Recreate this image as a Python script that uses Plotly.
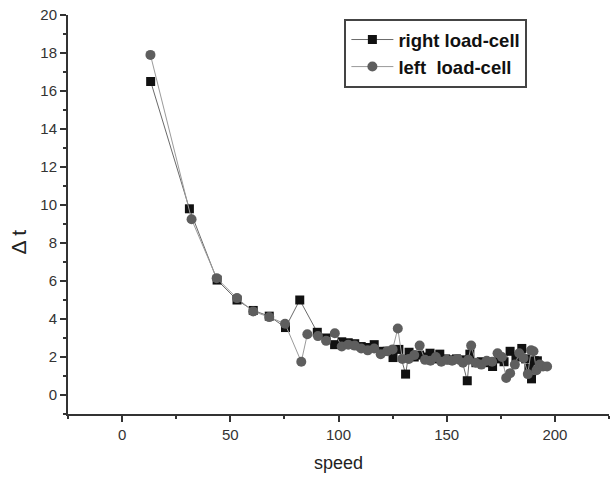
import plotly.graph_objects as go

right_x = [13.2, 31.1, 43.9, 53.1, 60.6, 68.0, 75.5, 82.1, 90.2, 94.3, 98.2, 101.5, 104.5, 107.5, 110.5,
           113.5, 116.5, 119.5, 122.5, 125.2, 127.9, 131.0, 132.6, 135.0, 137.5, 140.0, 142.3, 144.8,
           146.8, 149.5, 152.0, 154.5, 157.0, 159.5, 160.7, 163.5, 166.0, 168.5, 171.2, 174.0, 176.5,
           179.3, 182.0, 184.7, 186.5, 188.0, 189.2, 190.5, 191.9, 193.5]
right_y = [16.5, 9.8, 6.05, 5.0, 4.45, 4.15, 3.55, 5.0, 3.3, 3.0, 2.65, 2.8, 2.75, 2.7, 2.55,
           2.5, 2.65, 2.3, 2.3, 1.97, 2.4, 1.1, 2.25, 2.0, 2.1, 2.0, 2.2, 1.9,
           2.15, 1.9, 1.85, 1.9, 1.85, 0.75, 2.15, 1.7, 1.75, 1.7, 1.5, 1.9, 1.75,
           2.3, 2.0, 2.45, 1.9, 1.4, 0.85, 1.8, 1.8, 1.5]

left_x = [13.1, 32.1, 43.7, 53.1, 60.6, 68.0, 75.3, 82.8, 85.6, 90.5, 94.3, 98.3, 101.5, 104.5,
          107.5, 110.5, 113.5, 116.5, 119.5, 122.5, 125.0, 127.4, 129.5, 132.5, 135.0, 137.5, 140.0,
          142.5, 145.0, 147.5, 150.0, 152.5, 155.0, 157.5, 160.0, 161.3, 163.5, 166.0, 168.5, 171.0,
          173.5, 175.5, 177.5, 179.3, 181.5, 183.5, 185.5, 187.5, 189.0, 190.1, 191.5, 193.0, 194.5, 196.4]
left_y = [17.9, 9.25, 6.15, 5.1, 4.4, 4.1, 3.75, 1.75, 3.2, 3.1, 2.85, 3.25, 2.55, 2.65,
          2.6, 2.45, 2.35, 2.45, 2.15, 2.3, 2.4, 3.5, 1.9, 1.9, 2.1, 2.6, 1.85,
          1.8, 2.0, 1.75, 1.85, 1.8, 1.9, 1.7, 1.85, 2.6, 1.7, 1.6, 1.8, 1.75,
          2.2, 2.0, 0.9, 1.15, 1.6, 2.2, 1.95, 1.1, 2.35, 2.3, 1.3, 1.6, 1.5, 1.5]

series_names = ["right load-cell", "left  load-cell"]
x_ticks = [0, 50, 100, 150, 200]
y_ticks = [0, 2, 4, 6, 8, 10, 12, 14, 16, 18, 20]
x_title = "speed"
y_title = "Δ t"

fig = go.Figure()
fig.add_trace(go.Scatter(
    x=right_x, y=right_y, mode="lines+markers", name=series_names[0],
    line=dict(color="#6a6a6a", width=1),
    marker=dict(symbol="square", size=9, color="#111111"),
))
fig.add_trace(go.Scatter(
    x=left_x, y=left_y, mode="lines+markers", name=series_names[1],
    line=dict(color="#9a9a9a", width=1),
    marker=dict(symbol="circle", size=10, color="#5e5e5e"),
))

fam = "Arial, Liberation Sans, sans-serif"
axis_font = dict(family=fam, size=15, color="#333333")
fig.update_layout(
    width=610, height=480,
    margin=dict(l=68, r=1, t=15, b=66, autoexpand=False),
    paper_bgcolor="white", plot_bgcolor="white",
    font=dict(family=fam, color="#333333"),
    showlegend=True,
    legend=dict(
        x=0.68, y=0.9035, xanchor="center", yanchor="middle",
        bordercolor="#444444", borderwidth=2, bgcolor="white",
        font=dict(family=fam, size=18.5, color="#111111", weight="bold"),
        tracegroupgap=0, itemwidth=42,
    ),
    xaxis=dict(
        range=[-25, 225], tickvals=x_ticks, showgrid=False, zeroline=False,
        showline=True, linecolor="#333333", linewidth=2, automargin=False,
        ticks="outside", ticklen=6, tickwidth=1.5, tickcolor="#333333",
        minor=dict(dtick=25, tick0=0, ticks="outside", ticklen=3, tickcolor="#333333"),
        tickfont=axis_font, ticklabeloverflow="allow",
        title=dict(text=x_title, font=dict(family=fam, size=18, color="#222222"), standoff=14),
    ),
    yaxis=dict(
        range=[-1, 20], tickvals=y_ticks, showgrid=False, zeroline=False,
        showline=True, linecolor="#333333", linewidth=2, automargin=False,
        ticks="outside", ticklen=6, tickwidth=1.5, tickcolor="#333333",
        minor=dict(dtick=1, tick0=0, ticks="outside", ticklen=3, tickcolor="#333333"),
        tickfont=axis_font, ticklabeloverflow="allow",
    ),
    annotations=[dict(
        text=y_title, textangle=-90, xref="paper", yref="paper",
        x=0, y=0.43, xanchor="center", yanchor="middle", xshift=-50, showarrow=False,
        font=dict(family=fam, size=21, color="#222222"),
    )],
)

fig.write_html(
    "out.html",
    config={"displayModeBar": False},
    post_script="document.body.style.margin='0';document.body.style.overflow='hidden';",
)
